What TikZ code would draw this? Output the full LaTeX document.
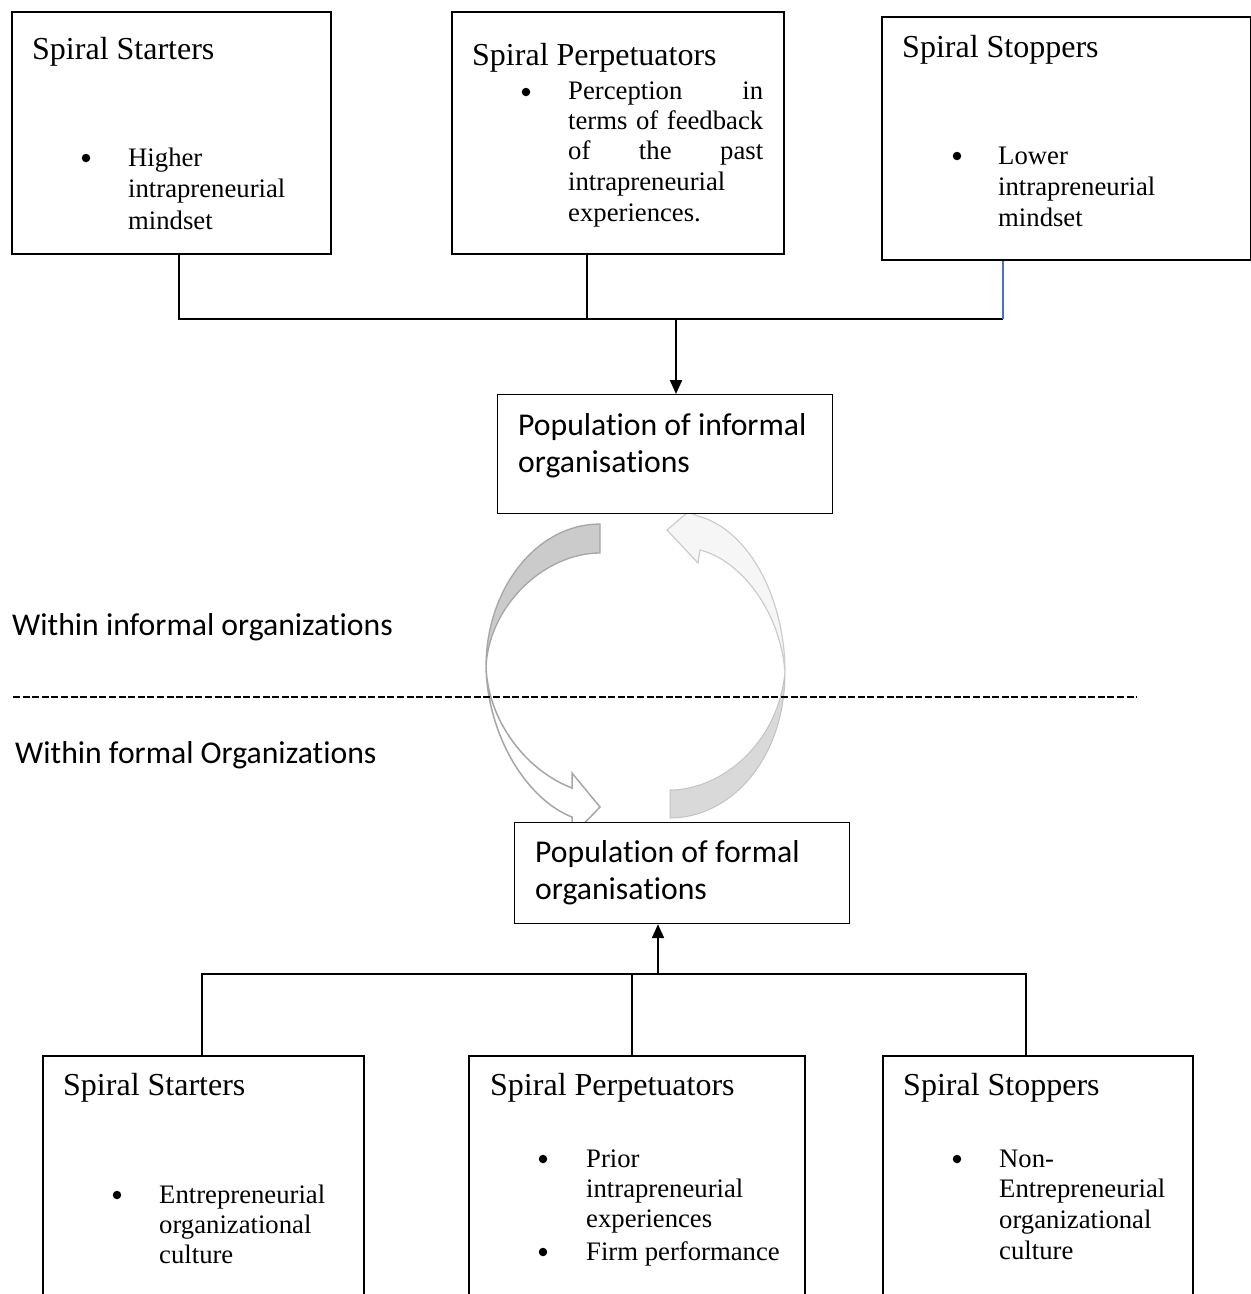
\documentclass[tikz,border=0pt]{standalone}
\usepackage{fontspec}
\setmainfont{Liberation Serif}
\newfontfamily\calfont[Ligatures={NoCommon}]{Carlito}
\usetikzlibrary{arrows.meta}
\definecolor{bluelink}{HTML}{4472C4}
\definecolor{gdark}{HTML}{CBCBCB}
\definecolor{gedge}{HTML}{A6A6A6}
\definecolor{glight}{HTML}{D9D9D9}
\definecolor{gpale}{HTML}{F6F6F6}
\definecolor{gpaleedge}{HTML}{CCCCCC}
\begin{document}
\begin{tikzpicture}[x=1pt,y=-1pt,
  topbox/.style={draw, line width=2.2pt, anchor=north west, inner sep=0, fill=white},
  botbox/.style={draw, line width=1.8pt, anchor=north west, inner sep=0, fill=white},
  popbox/.style={draw, line width=1.2pt, anchor=north west, inner sep=0, fill=white},
  ttl/.style={font=\fontsize{32}{38}\selectfont, inner sep=0, anchor=base west},
  bt/.style={font=\fontsize{26.7}{31}\selectfont, inner sep=0, anchor=base west},
  cb/.style={font=\calfont\fontsize{31.7}{37}\selectfont, inner sep=0, anchor=base west},
  bul/.style={circle, fill=black, inner sep=0, minimum size=8.5pt},
  conn/.style={line width=1.1pt},
  arr/.style={line width=2.2pt, -{Triangle[length=14pt,width=12pt]}},
  dashline/.style={line width=2.2pt, dash pattern=on 7pt off 2.6pt},
]
\useasboundingbox (0,0) rectangle (1251,1294);

% ---------- circular arrows ----------
% left arrow, shaded back part (top)
\draw[fill=gdark, draw=gedge, line width=1.3pt]
  (600,524) .. controls (537,524) and (486,588) .. (486,667)
  .. controls (489,605) and (545,553) .. (600,553) -- cycle;
% left arrow, front part with head (bottom)
\draw[fill=white, draw=gedge, line width=1.5pt, line join=miter]
  (486,667) .. controls (488,738) and (528,800) .. (572,817)
  -- (572,836) -- (600,807) -- (572,773) -- (572,788)
  .. controls (525,770) and (488,720) .. (486,667) -- cycle;
% right arrow, shaded back part (bottom)
\draw[fill=glight, draw=glight!90!black, line width=1pt]
  (785,672) .. controls (785,760) and (730,818) .. (670,818)
  -- (670,790) .. controls (720,790) and (778,745) .. (785,672) -- cycle;
% right arrow, front part with head (top)
\draw[fill=gpale, draw=gpaleedge, line width=1.2pt, line join=miter]
  (785,672) .. controls (785,600) and (750,530) .. (698,516)
  -- (688,512) -- (667,530) -- (698,563) -- (700,550)
  .. controls (740,560) and (780,610) .. (785,672) -- cycle;

% ---------- top boxes ----------
\node[topbox, minimum width=319pt, minimum height=242pt] (s1) at (11,11) {};
\node[topbox, minimum width=332pt, minimum height=242pt] (s2) at (451,11) {};
\node[topbox, minimum width=369pt, minimum height=243pt] (s3) at (881,16) {};

\node[ttl] (s1t) at (32,59) {Spiral Starters};
\node[bul] (s1b) at (86,158) {};
\node[bt] (s1l1) at (128,166) {Higher};
\node[bt] (s1l2) at (128,197) {intrapreneurial};
\node[bt] (s1l3) at (128,229) {mindset};

\node[ttl] (s2t) at (472,65) {Spiral Perpetuators};
\node[bul] (s2b) at (526,92) {};
\node[bt] (s2l1) at (568,99) {\makebox[195pt][s]{Perception\hfill in}};
\node[bt] (s2l2) at (568,129) {\makebox[195pt][s]{terms of feedback}};
\node[bt] (s2l3) at (568,159) {\makebox[195pt][s]{of the past}};
\node[bt] (s2l4) at (568,190) {intrapreneurial};
\node[bt] (s2l5) at (568,221) {experiences.};

\node[ttl] (s3t) at (902,57) {Spiral Stoppers};
\node[bul] (s3b) at (957,156) {};
\node[bt] (s3l1) at (998,164) {Lower};
\node[bt] (s3l2) at (998,195) {intrapreneurial};
\node[bt] (s3l3) at (998,226) {mindset};

% ---------- top connectors ----------
\coordinate (c1) at (179,319);
\coordinate (c2) at (587,319);
\coordinate (c3) at (1003,319);
\coordinate (ca) at (676,319);
\draw[conn] (s1.south -| c1) -- (c1) -- (c3);
\draw[conn] (s2.south -| c2) -- (c2);
\draw[conn, bluelink] (s3.south -| c3) -- (c3);

% ---------- population boxes ----------
\node[popbox, minimum width=335pt, minimum height=119pt] (pi) at (497,394) {};
\node[cb] (pit1) at (518,435) {Population of informal};
\node[cb] (pit2) at (518,472) {organisations};
\draw[arr] (ca) -- (ca |- pi.north);

\node[popbox, minimum width=335pt, minimum height=101pt] (pf) at (514,822) {};
\node[cb] (pft1) at (535,862) {Population of formal};
\node[cb] (pft2) at (535,899) {organisations};

% ---------- side labels and divider ----------
\node[cb] (lin) at (12,635) {Within informal organizations};
\node[cb] (lfo) at (15,763) {Within formal Organizations};
\coordinate (d1) at (13,697);
\coordinate (d2) at (1137,697);
\draw[dashline] (d1) -- (d2);

% ---------- bottom boxes ----------
\node[botbox, minimum width=321pt, minimum height=260pt] (b1) at (42,1055) {};
\node[botbox, minimum width=336pt, minimum height=260pt] (b2) at (468,1055) {};
\node[botbox, minimum width=310pt, minimum height=260pt] (b3) at (882,1055) {};

\node[ttl] (b1t) at (63,1095) {Spiral Starters};
\node[bul] (b1b) at (117,1195) {};
\node[bt] (b1l1) at (159,1203) {Entrepreneurial};
\node[bt] (b1l2) at (159,1233) {organizational};
\node[bt] (b1l3) at (159,1263) {culture};

\node[ttl] (b2t) at (490,1095) {Spiral Perpetuators};
\node[bul] (b2b1) at (543,1159) {};
\node[bt] (b2l1) at (586,1167) {Prior};
\node[bt] (b2l2) at (586,1197) {intrapreneurial};
\node[bt] (b2l3) at (586,1227) {experiences};
\node[bul] (b2b2) at (543,1252) {};
\node[bt] (b2l4) at (586,1260) {Firm performance};

\node[ttl] (b3t) at (903,1095) {Spiral Stoppers};
\node[bul] (b3b) at (957,1159) {};
\node[bt] (b3l1) at (999,1167) {Non-};
\node[bt] (b3l2) at (999,1197) {Entrepreneurial};
\node[bt] (b3l3) at (999,1228) {organizational};
\node[bt] (b3l4) at (999,1259) {culture};

% ---------- bottom connectors ----------
\coordinate (e1) at (202,974);
\coordinate (e2) at (632,974);
\coordinate (e3) at (1026,974);
\coordinate (eb) at (658,974);
\draw[conn] (b1.north -| e1) -- (e1) -- (e3) -- (b3.north -| e3);
\draw[conn] (b2.north -| e2) -- (e2);
\draw[arr] (eb) -- (eb |- pf.south);
\end{tikzpicture}
\end{document}
